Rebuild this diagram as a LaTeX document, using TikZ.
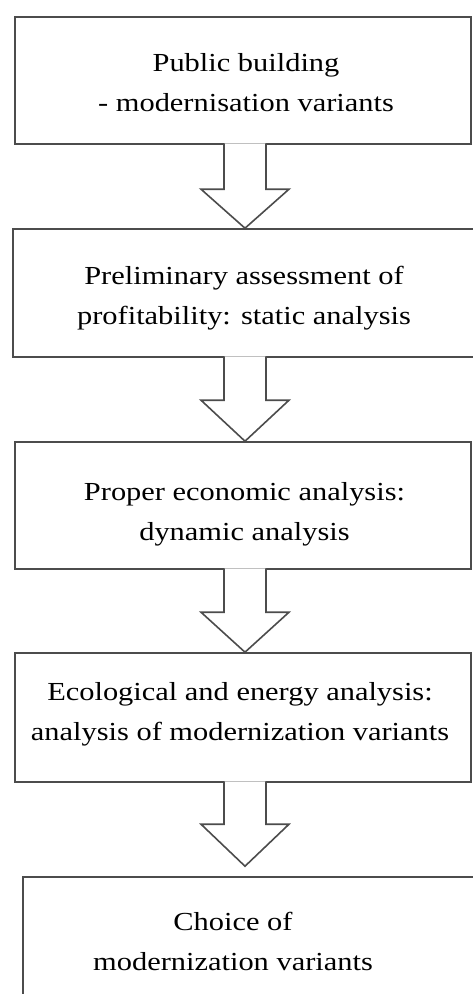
\documentclass[tikz,border=0pt]{standalone}
\usepackage{fontspec}
\setmainfont{Liberation Serif}[FakeStretch=1.17]
\usetikzlibrary{positioning,calc}

\begin{document}
\begin{tikzpicture}[x=1pt, y=1pt,
    block/.style={draw=black!70, line width=1.6pt, rectangle, minimum width=456pt, minimum height=127pt, inner sep=0pt},
    txt/.style={align=center, text=black, font=\fontsize{26}{40}\selectfont},
    flow/.style={draw=black!70, line width=1.6pt, fill=white, line join=miter}]

    \useasboundingbox (0,0) rectangle (472,-994);
    \coordinate (axis) at (245,0);

    \node [block, label={[txt, xshift=3pt, yshift=-2.5pt]center:{Public building\\- modernisation variants}}] (public) at (243,-80.5) {};
    \node [block, minimum width=470pt, minimum height=128pt, label={[txt, xshift=-4pt, yshift=-5.5pt]center:{Preliminary assessment of\\profitability: static analysis}}] (prelim) at (248,-293) {};
    \node [block, label={[txt, xshift=1.5pt, yshift=-8.5pt]center:{Proper economic analysis:\\dynamic analysis}}] (economic) at (243,-505.5) {};
    \node [block, minimum height=129pt, label={[txt, xshift=-3pt, yshift=3pt]center:{Ecological and energy analysis:\\analysis of modernization variants}}] (ecology) at (243,-717.5) {};
    \node [block, minimum width=480pt, minimum height=140pt, label={[txt, xshift=-30pt, yshift=5.5pt]center:{Choice of\\modernization variants}}] (choice) at (263,-947) {};

    % hollow arrows between the steps
    \draw [flow] ($(axis |- public.south)+(-21,1.5)$) |- ($(axis |- prelim.north)+(-44,39)$) -- (axis |- prelim.north) -- ++(44,39) -| ($(axis |- public.south)+(21,1.5)$);
    \draw [flow] ($(axis |- prelim.south)+(-21,1.5)$) |- ($(axis |- economic.north)+(-44,41)$) -- (axis |- economic.north) -- ++(44,41) -| ($(axis |- prelim.south)+(21,1.5)$);
    \draw [flow] ($(axis |- economic.south)+(-21,1.5)$) |- ($(axis |- ecology.north)+(-44,40)$) -- (axis |- ecology.north) -- ++(44,40) -| ($(axis |- economic.south)+(21,1.5)$);
    \draw [flow] ($(axis |- ecology.south)+(-21,1.5)$) |- ($(axis |- choice.north)+(-44,52)$) -- ($(axis |- choice.north)+(0,10)$) -- ++(44,42) -| ($(axis |- ecology.south)+(21,1.5)$);
\end{tikzpicture}
\end{document}
